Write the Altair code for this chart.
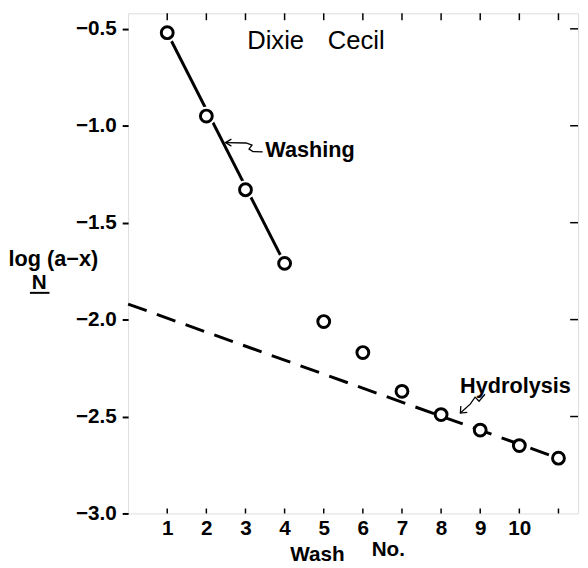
import altair as alt
import pandas as pd

# ---- data ----
wash_no = [1, 2, 3, 4, 5, 6, 7, 8, 9, 10, 11]
log_ax = [-0.52, -0.95, -1.33, -1.71, -2.01, -2.17, -2.37, -2.49, -2.57, -2.65, -2.715]

washing_x = [1, 4]
washing_y = [-0.52, -1.71]

hydro_x = [0, 11]
hydro_y = [-1.92, -2.715]

x_tick_labels = [1, 2, 3, 4, 5, 6, 7, 8, 9, 10]
top_ticks = [1, 2, 3, 4, 5, 6, 7, 8, 9, 10, 11]
y_ticks = [-3.0, -2.5, -2.0, -1.5, -1.0, -0.5]
right_ticks = [-2.5, -2.0, -1.5, -1.0, -0.5]

# annotation texts (data coordinates)
label_text = ["Dixie", "Cecil", "Washing", "Hydrolysis", "log (a\u2212x)", "N", "Wash", "No."]
label_x = [3.77, 5.83, 4.65, 9.90, -1.91, -2.27, 4.84, 6.65]
label_y = [-0.561, -0.561, -1.125, -2.344, -1.689, -1.811, -3.213, -3.188]
label_style = ["title", "title", "note", "note", "note", "axis", "axis", "axis"]

# arrow paths (data coordinates)
arrow_group = ["w", "w", "w", "w", "w", "w",
               "wh", "wh", "wh",
               "h", "h", "h", "h", "h",
               "hh", "hh", "hh"]
arrow_x = [2.49, 3.015, 3.166, 3.09, 3.191, 3.44,
           2.64, 2.49, 2.64,
           9.121, 8.97, 8.869, 8.744, 8.492,
           8.505, 8.492, 8.668]
arrow_y = [-1.087, -1.089, -1.100, -1.120, -1.133, -1.135,
           -1.069, -1.087, -1.105,
           -2.385, -2.421, -2.400, -2.436, -2.482,
           -2.446, -2.482, -2.479]

underline_x = [-2.51]
underline_x2 = [-2.01]
underline_y = [-1.862]

# ---- frames ----
pts = pd.DataFrame({"x": wash_no, "y": log_ax})
halo = pts.iloc[:4]
wline = pd.DataFrame({"x": washing_x, "y": washing_y})
hline = pd.DataFrame({"x": hydro_x, "y": hydro_y})
labels = pd.DataFrame({"t": label_text, "x": label_x, "y": label_y, "k": label_style})
arrows = pd.DataFrame({"g": arrow_group, "x": arrow_x, "y": arrow_y,
                       "o": list(range(len(arrow_x)))})
uline = pd.DataFrame({"x": underline_x, "x2": underline_x2, "y": underline_y})

FONT = "Liberation Sans"
W, H = 457, 508

xs = alt.Scale(domain=[0, 11.5], nice=False, zero=False)
ys = alt.Scale(domain=[-3.0, -0.42], nice=False, zero=False)

X = alt.X("x:Q", scale=xs,
          axis=alt.Axis(values=x_tick_labels, title=None, grid=False, domain=False,
                        ticks=False, labelFontSize=21, labelFontWeight="bold",
                        labelFont=FONT, labelColor="black", labelPadding=4,
                        labelFlush=False))
Y = alt.Y("y:Q", scale=ys,
          axis=alt.Axis(values=y_ticks, format=".1f", title=None, grid=False,
                        domain=False, tickSize=6, tickWidth=2, tickColor="black",
                        labelFontSize=21, labelFontWeight="bold", labelFont=FONT,
                        labelColor="black", labelPadding=6))
XP = alt.X("x:Q", scale=xs)
YP = alt.Y("y:Q", scale=ys)

hydro = alt.Chart(hline).mark_line(color="black", strokeWidth=3,
                                   strokeDash=[20, 11]).encode(x=X, y=Y)
wash = alt.Chart(wline).mark_line(color="black", strokeWidth=3).encode(x=XP, y=YP)
halo_l = alt.Chart(halo).mark_point(shape="circle", filled=True, fill="white",
                                    size=380, opacity=1, strokeWidth=0).encode(x=XP, y=YP)
points = alt.Chart(pts).mark_point(shape="circle", filled=True, fill="white",
                                   stroke="black", strokeWidth=3, size=145,
                                   opacity=1).encode(x=XP, y=YP)

bottom_t = alt.Chart(pd.DataFrame({"x": top_ticks})).mark_rule(
    color="black", strokeWidth=1.5).encode(x=XP, y=alt.value(H), y2=alt.value(H - 5))
top_t = alt.Chart(pd.DataFrame({"x": top_ticks})).mark_rule(
    color="black", strokeWidth=1.5).encode(x=XP, y=alt.value(0), y2=alt.value(7))
right_t = alt.Chart(pd.DataFrame({"y": right_ticks})).mark_rule(
    color="black", strokeWidth=1.5).encode(y=YP, x=alt.value(W), x2=alt.value(W - 8))


def text_layer(kind, size, weight):
    return alt.Chart(labels).transform_filter(
        alt.datum.k == kind
    ).mark_text(font=FONT, color="black", align="center", baseline="middle",
                fontSize=size, fontWeight=weight).encode(x=XP, y=YP, text="t:N")


t_title = text_layer("title", 26, "normal")
t_note = text_layer("note", 22, "bold")
t_axis = text_layer("axis", 21, "bold")

arrow_l = alt.Chart(arrows).mark_line(color="black", strokeWidth=1.3).encode(
    x=XP, y=YP, detail="g:N", order="o:Q")

under = alt.Chart(uline).mark_rule(color="black", strokeWidth=2).encode(
    x=XP, x2="x2:Q", y=YP)

chart = alt.layer(hydro, wash, halo_l, points, bottom_t, top_t, right_t,
                  t_title, t_note, t_axis, arrow_l, under).properties(
    width=W, height=H,
    autosize=alt.AutoSizeParams(type="none"),
    padding={"left": 122, "top": 1, "right": 2, "bottom": 51},
).configure_view(stroke="black", strokeWidth=2).configure(background="white")

chart.save("out.html", embed_options={"renderer": "svg", "actions": False})
